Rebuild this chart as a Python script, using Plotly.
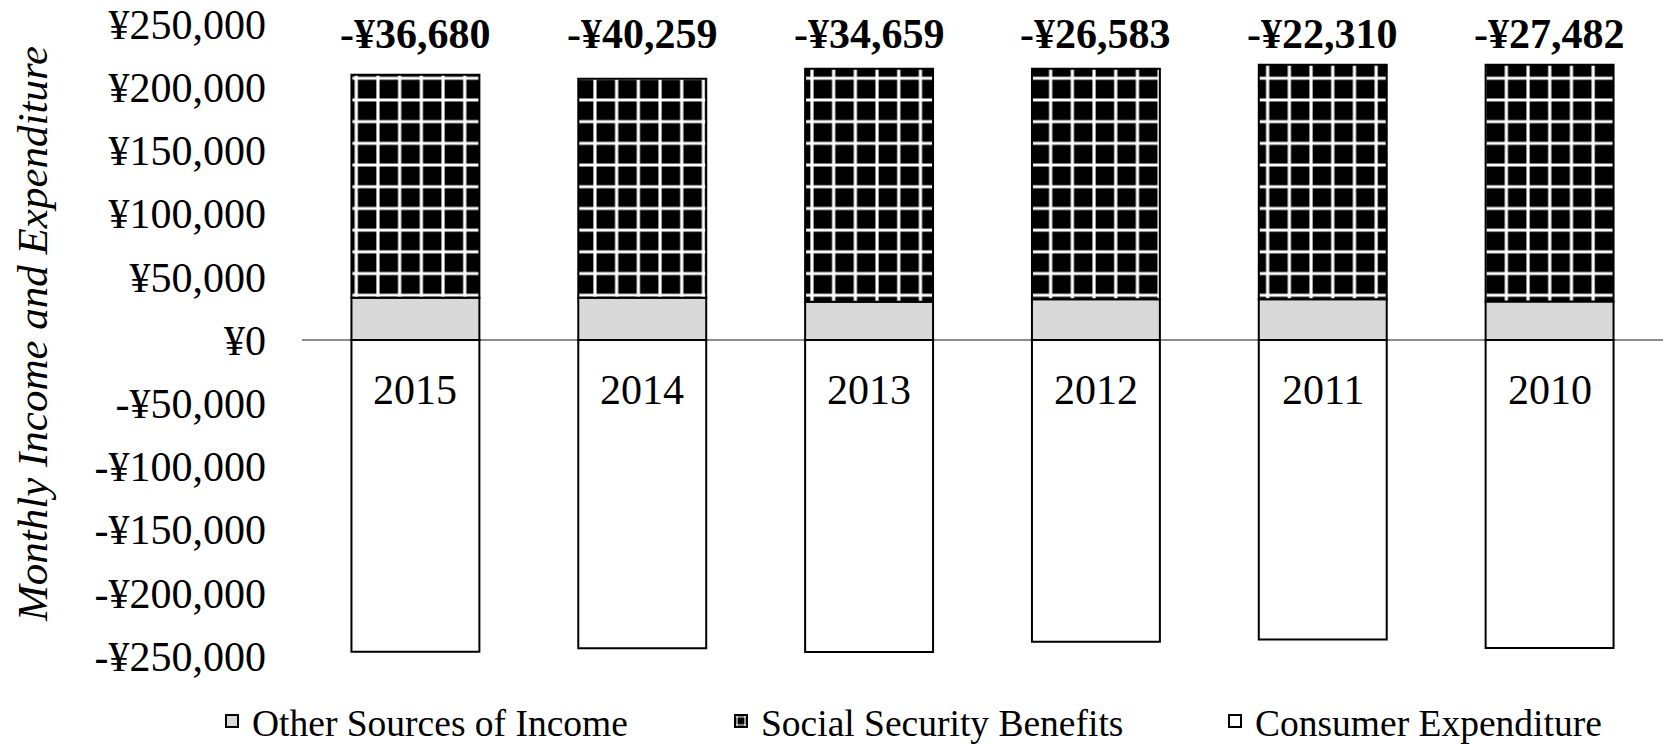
import plotly.graph_objects as go

# Household budget by year (yen per month)
years = ["2015", "2014", "2013", "2012", "2011", "2010"]
other_income = [33500, 33400, 30300, 32200, 32300, 30400]
social_security = [176400, 173300, 184300, 182400, 185500, 187400]
consumer_expenditure = [246600, 243800, 246800, 238700, 236900, 243700]
balance_labels = [-36680, -40259, -34659, -26583, -22310, -27482]

tick_values = [250000, 200000, 150000, 100000, 50000, 0,
               -50000, -100000, -150000, -200000, -250000]
tick_labels = ["¥250,000", "¥200,000", "¥150,000", "¥100,000", "¥50,000", "¥0",
               "-¥50,000", "-¥100,000", "-¥150,000", "-¥200,000", "-¥250,000"]

SERIF = "Liberation Serif, Times New Roman, serif"
W, H = 1663, 744
M_L, M_R, M_T, M_B = 302, 0, 24, 88

fig = go.Figure()

fig.add_trace(go.Bar(
    x=years, y=other_income, name="Other Sources of Income",
    marker=dict(color="#d9d9d9", line=dict(color="black", width=2)),
    legend="legend",
))
fig.add_trace(go.Bar(
    x=years, y=social_security, name="Social Security Benefits",
    marker=dict(
        color="black",
        line=dict(color="black", width=2),
        pattern=dict(shape="+", bgcolor="black", fgcolor="white",
                     size=21.7, solidity=0.27, fillmode="replace"),
    ),
    legend="legend2",
))
fig.add_trace(go.Bar(
    x=years, y=[-v for v in consumer_expenditure], name="Consumer Expenditure",
    marker=dict(color="white", line=dict(color="black", width=2)),
    legend="legend3",
))

# On a category axis, annotation x is the category's serial index
for i, v in enumerate(balance_labels):
    txt = ("-" if v < 0 else "") + "¥{:,}".format(abs(v))
    fig.add_annotation(
        x=i, xref="x", y=1.0, yref="paper", yshift=-10,
        text="<b>" + txt + "</b>", showarrow=False,
        xanchor="center", yanchor="middle",
        font=dict(family=SERIF, size=42, color="black"),
    )

# Year labels sitting just below the zero line
for i, yr in enumerate(years):
    fig.add_annotation(
        x=i, xref="x", y=0, yref="y", yshift=-50,
        text=yr, showarrow=False, xanchor="center", yanchor="middle",
        font=dict(family=SERIF, size=42, color="black"),
    )

# Vertical axis title
fig.add_annotation(
    x=(32 - M_L) / (W - M_L - M_R), xref="paper", y=0.5, yref="paper", yshift=6,
    text="<i>Monthly Income and Expenditure</i>", textangle=-90,
    showarrow=False, xanchor="center", yanchor="middle",
    font=dict(family=SERIF, size=43, color="black"),
)

# Legends placed in container coordinates so they do not shrink the plot
legend_common = dict(
    orientation="h", xref="container", yref="container",
    y=1 - 721 / H, yanchor="middle", xanchor="left",
    font=dict(family=SERIF, size=37.5, color="black"),
    bgcolor="rgba(0,0,0,0)", itemwidth=30, borderwidth=0,
)

fig.update_layout(
    width=W, height=H,
    margin=dict(l=M_L, r=M_R, t=M_T, b=M_B, pad=0, autoexpand=False),
    paper_bgcolor="white", plot_bgcolor="white",
    barmode="relative", bargap=0.436,
    showlegend=True,
    legend=dict(x=212 / W, **legend_common),
    legend2=dict(x=721 / W, **legend_common),
    legend3=dict(x=1215 / W, **legend_common),
    xaxis=dict(
        type="category", categoryorder="array", categoryarray=years,
        range=[-0.5, len(years) - 0.5], autorange=False,
        showline=False, showgrid=False, zeroline=False, ticks="",
        showticklabels=False,
    ),
    yaxis=dict(
        range=[-250000, 250000], autorange=False,
        tickmode="array", tickvals=tick_values, ticktext=tick_labels,
        showgrid=False, showline=False, ticks="",
        zeroline=True, zerolinecolor="#8c8c8c", zerolinewidth=2,
        ticklabelstandoff=35,
        tickfont=dict(family=SERIF, size=42, color="black"),
    ),
)

fig.write_html("out.html")
